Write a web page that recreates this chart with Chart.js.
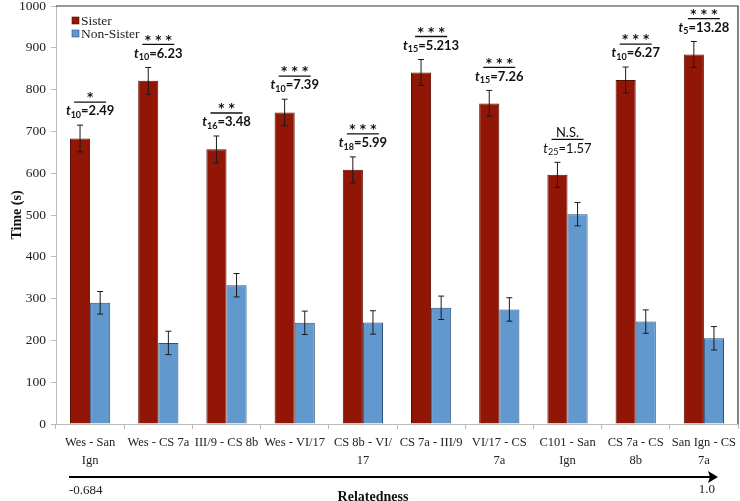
<!DOCTYPE html>
<html>
<head>
<meta charset="utf-8">
<script src="https://cdn.jsdelivr.net/npm/chart.js@4/dist/chart.umd.min.js"></script>
<style>
  html, body { margin: 0; padding: 0; background: #fff; }
</style>
</head>
<body>
<canvas id="myChart" width="740" height="501"></canvas>
<script>
// pairs, ordered by relatedness (-0.684 -> 1.0)
const categories = [
  ['Wes - San', 'Ign'], 'Wes - CS 7a', 'III/9 - CS 8b', 'Wes - VI/17', ['CS 8b - VI/', '17'],
  'CS 7a - III/9', ['VI/17 - CS', '7a'], ['C101 - San', 'Ign'], ['CS 7a - CS', '8b'], ['San Ign - CS', '7a']
];
const sister = [683, 821, 657, 745, 608, 841, 767, 596, 823, 884];
const sisterErr = [32, 32, 32, 32, 31, 31, 31, 30, 31, 31];
const nonSister = [290, 194, 332, 242, 243, 278, 274, 502, 245, 205];
const nonSisterErr = [27, 28, 28, 28, 28, 28, 28, 28, 28, 28];
const stars = ['*', '***', '**', '***', '***', '***', '***', 'N.S.', '***', '***'];
const dof = ['10', '10', '16', '10', '18', '15', '15', '25', '10', '5'];
const tValues = ['2.49', '6.23', '3.48', '7.39', '5.99', '5.213', '7.26', '1.57', '6.27', '13.28'];
const yTicks = [0, 100, 200, 300, 400, 500, 600, 700, 800, 900, 1000];

const serif = '"Liberation Serif", "Times New Roman", serif';
const sans = 'Lato, "Open Sans", sans-serif';

const errorBars = {
  id: 'errorBars',
  afterDatasetsDraw(chart) {
    const ctx = chart.ctx;
    const y = chart.scales.y;
    const errs = [sisterErr, nonSisterErr];
    ctx.save();
    ctx.strokeStyle = '#1a1a1a';
    ctx.lineWidth = 1;
    chart.data.datasets.forEach((ds, di) => {
      chart.getDatasetMeta(di).data.forEach((bar, i) => {
        const v = ds.data[i], e = errs[di][i];
        const top = y.getPixelForValue(v + e), bot = y.getPixelForValue(v - e);
        ctx.beginPath();
        ctx.moveTo(bar.x, top); ctx.lineTo(bar.x, bot);
        ctx.moveTo(bar.x - 3, top); ctx.lineTo(bar.x + 3, top);
        ctx.moveTo(bar.x - 3, bot); ctx.lineTo(bar.x + 3, bot);
        ctx.stroke();
      });
    });
    ctx.restore();
  }
};

const extras = {
  id: 'extras',
  afterDraw(chart) {
    const ctx = chart.ctx;
    const a = chart.chartArea;
    const x = chart.scales.x, y = chart.scales.y;
    ctx.save();

    // frame top/right
    ctx.strokeStyle = '#333';
    ctx.lineWidth = 1.2;
    ctx.beginPath();
    ctx.moveTo(a.left, a.top); ctx.lineTo(a.right, a.top); ctx.lineTo(a.right, a.bottom);
    ctx.stroke();

    // legend
    const leg = [['Sister', '#911605', '#5e0d03'], ['Non-Sister', '#6199cf', '#2c4f78']];
    ctx.font = '13.5px ' + serif;
    ctx.textBaseline = 'middle';
    ctx.textAlign = 'left';
    leg.forEach((l, i) => {
      const cy = 21 + i * 13;
      ctx.fillStyle = l[1];
      ctx.fillRect(72, cy - 4, 7, 7);
      ctx.strokeStyle = l[2];
      ctx.lineWidth = 0.6;
      ctx.strokeRect(72, cy - 4, 7, 7);
      ctx.fillStyle = '#222';
      ctx.fillText(l[0], 81, cy);
    });

    // significance annotations
    ctx.textAlign = 'center';
    stars.forEach((s, i) => {
      const cx = x.getPixelForValue(i);
      const top = y.getPixelForValue(sister[i] + sisterErr[i]);
      const ns = s === 'N.S.';
      const bold = ns ? '' : 'bold ';
      const tY = top - 14, lineY = top - 23, sY = top - 30;
      ctx.fillStyle = '#111';
      if (ns) {
        ctx.font = '13px ' + sans;
        ctx.fillText(s, cx, sY);
      } else {
        ctx.font = 'bold 12px "DejaVu Sans", sans-serif';
        ctx.fillText(s.split('').join(' '), cx, sY + 3);
      }
      ctx.strokeStyle = '#111';
      ctx.lineWidth = 1.3;
      ctx.beginPath();
      ctx.moveTo(cx - 16, lineY); ctx.lineTo(cx + 16, lineY);
      ctx.stroke();
      // t_df=value
      const f1 = 'italic ' + bold + '13px ' + sans;
      const f2 = bold + '9px ' + sans;
      const f3 = bold + '13px ' + sans;
      const rest = '=' + tValues[i];
      ctx.font = f1; const w1 = ctx.measureText('t').width;
      ctx.font = f2; const w2 = ctx.measureText(dof[i]).width;
      ctx.font = f3; const w3 = ctx.measureText(rest).width;
      let lx = cx - (w1 + w2 + w3) / 2;
      ctx.textAlign = 'left';
      ctx.font = f1; ctx.fillText('t', lx, tY); lx += w1;
      ctx.font = f2; ctx.fillText(dof[i], lx, tY + 4); lx += w2;
      ctx.font = f3; ctx.fillText(rest, lx, tY);
      ctx.textAlign = 'center';
    });

    // relatedness arrow
    ctx.strokeStyle = '#000';
    ctx.fillStyle = '#000';
    ctx.lineWidth = 2.2;
    ctx.beginPath();
    ctx.moveTo(69, 477); ctx.lineTo(712, 477);
    ctx.stroke();
    ctx.beginPath();
    ctx.moveTo(718, 477); ctx.lineTo(708, 471); ctx.lineTo(710, 477); ctx.lineTo(708, 483);
    ctx.closePath();
    ctx.fill();
    ctx.font = '13px ' + serif;
    ctx.fillStyle = '#222';
    ctx.textAlign = 'left';
    ctx.fillText('-0.684', 69, 491);
    ctx.textAlign = 'right';
    ctx.fillText('1.0', 715, 490);
    ctx.textAlign = 'center';
    ctx.font = 'bold 14px ' + serif;
    ctx.fillStyle = '#111';
    ctx.fillText('Relatedness', 373, 497);
    ctx.restore();
  }
};

new Chart(document.getElementById('myChart').getContext('2d'), {
  type: 'bar',
  data: {
    labels: categories,
    datasets: [{
      label: 'Sister',
      data: sister,
      backgroundColor: '#911605',
      borderColor: '#5e0d03',
      borderWidth: 1,
      categoryPercentage: 0.59,
      barPercentage: 1.0
    }, {
      label: 'Non-Sister',
      data: nonSister,
      backgroundColor: '#6199cf',
      borderColor: '#2c4f78',
      borderWidth: 1,
      categoryPercentage: 0.59,
      barPercentage: 1.0
    }]
  },
  options: {
    responsive: false,
    animation: false,
    layout: { padding: { top: 6, right: 2, left: 0, bottom: 0 } },
    plugins: {
      legend: { display: false },
      tooltip: { enabled: false }
    },
    scales: {
      x: {
        offset: true,
        grid: { display: true, drawOnChartArea: false, tickLength: 5, color: '#bbb', offset: true },
        border: { color: '#bbb' },
        ticks: {
          color: '#222',
          font: { family: serif, size: 12.5, lineHeight: 1.4 },
          padding: 5,
          maxRotation: 0,
          autoSkip: false
        },
        afterFit(scale) {
          scale.height = 77;
          scale.paddingLeft = 0;
          scale.paddingRight = 0;
        }
      },
      y: {
        min: 0,
        max: 1000,
        afterBuildTicks(scale) { scale.ticks = yTicks.map(v => ({ value: v })); },
        grid: { display: true, drawOnChartArea: false, tickLength: 5, color: '#bbb' },
        border: { color: '#bbb' },
        ticks: {
          color: '#222',
          font: { family: serif, size: 13.5 },
          padding: 5,
          callback: v => String(v)
        },
        title: {
          display: true,
          text: 'Time (s)',
          color: '#111',
          font: { family: serif, size: 14, weight: 'bold' },
          padding: { top: 9, bottom: 0 }
        },
        afterFit(scale) {
          scale.width = 56;
          scale.paddingTop = 0;
          scale.paddingBottom = 0;
        }
      }
    }
  },
  plugins: [errorBars, extras]
});
</script>
</body>
</html>
